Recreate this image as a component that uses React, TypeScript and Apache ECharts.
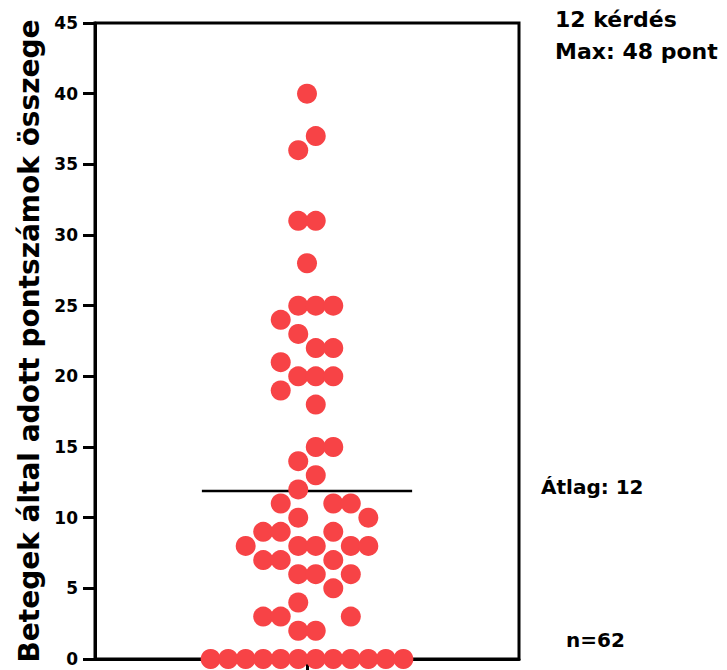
import React, { useEffect, useRef } from "react";
import * as echarts from "echarts";

// Patient total scores (one per patient)
const scores = [
  40, 37, 36, 31, 31, 28,
  25, 25, 25, 24, 23, 22, 22, 21, 20, 20, 20, 19, 18,
  15, 15, 14, 13, 12,
  11, 11, 11, 10, 10, 9, 9, 9, 8, 8, 8, 8, 8,
  7, 7, 7, 6, 6, 6, 5, 4, 3, 3, 3, 2, 2,
  0, 0, 0, 0, 0, 0, 0, 0, 0, 0, 0, 0,
];
// Horizontal scatter slot of each point (in dot widths from the column centre)
const slots = [
  0, 0.5, -0.5, -0.5, 0.5, 0,
  -0.5, 0.5, 1.5, -1.5, -0.5, 0.5, 1.5, -1.5, -0.5, 0.5, 1.5, -1.5, 0.5,
  0.5, 1.5, -0.5, 0.5, -0.5,
  -1.5, 1.5, 2.5, -0.5, 3.5, -2.5, -1.5, 1.5, -3.5, -0.5, 0.5, 2.5, 3.5,
  -2.5, -1.5, 1.5, -0.5, 0.5, 2.5, 1.5, -0.5, -2.5, -1.5, 2.5, -0.5, 0.5,
  -5.5, -4.5, -3.5, -2.5, -1.5, -0.5, 0.5, 1.5, 2.5, 3.5, 4.5, 5.5,
];
const meanLineSpan = [-6, 6];
const yAxisTitle = "Betegek által adott pontszámok összege";
const noteLines = ["12 kérdés", "Max: 48 pont"];

const FONT = "'DejaVu Sans', sans-serif";

export default function App() {
  const ref = useRef<HTMLDivElement>(null);

  useEffect(() => {
    if (!ref.current) return;
    const chart = echarts.init(ref.current, null, { renderer: "svg" });
    const mean = scores.reduce((a, b) => a + b, 0) / scores.length;
    const points = scores.map((s, i) => [slots[i], s]);

    chart.setOption({
      animation: false,
      backgroundColor: "#fff",
      grid: {
        left: 95,
        right: 208,
        top: 23,
        bottom: 11,
        show: true,
        borderColor: "#000",
        borderWidth: 3,
        backgroundColor: "transparent",
      },
      xAxis: {
        type: "value",
        min: -12.1,
        max: 12.1,
        splitLine: { show: false },
        axisLine: { show: true, onZero: false, lineStyle: { color: "#000", width: 3 } },
        axisTick: {
          show: true,
          customValues: [0],
          length: 11,
          lineStyle: { color: "#000", width: 3 },
        },
        axisLabel: { show: false },
      },
      yAxis: {
        type: "value",
        min: 0,
        max: 45,
        interval: 5,
        splitLine: { show: false },
        axisLine: { show: true, onZero: false, lineStyle: { color: "#000", width: 3 } },
        axisTick: { show: true, length: 12, lineStyle: { color: "#000", width: 3 } },
        axisLabel: {
          color: "#000",
          fontFamily: FONT,
          fontWeight: "bold",
          fontSize: 17,
          margin: 17,
        },
        name: yAxisTitle,
        nameLocation: "middle",
        nameRotate: 90,
        nameGap: 52,
        nameTextStyle: {
          color: "#000",
          fontFamily: FONT,
          fontWeight: "bold",
          fontSize: 28,
        },
      },
      series: [
        {
          type: "line",
          data: [
            [meanLineSpan[0], mean],
            [meanLineSpan[1], mean],
          ],
          symbol: "none",
          lineStyle: { color: "#000", width: 2.5 },
          z: 1,
          silent: true,
        },
        {
          type: "scatter",
          data: points,
          symbol: "circle",
          symbolSize: 20,
          itemStyle: { color: "#F74346", opacity: 1 },
          clip: false,
          z: 3,
        },
      ],
      graphic: [
        {
          type: "text",
          x: 555,
          y: 19,
          style: {
            text: noteLines[0],
            font: `bold 22px ${FONT}`,
            fill: "#000",
            textVerticalAlign: "middle",
          },
        },
        {
          type: "text",
          x: 555,
          y: 51,
          style: {
            text: noteLines[1],
            font: `bold 22px ${FONT}`,
            fill: "#000",
            textVerticalAlign: "middle",
          },
        },
        {
          type: "text",
          x: 541,
          y: 487,
          style: {
            text: `Átlag: ${Math.round(mean)}`,
            font: `bold 20px ${FONT}`,
            fill: "#000",
            textVerticalAlign: "middle",
          },
        },
        {
          type: "text",
          x: 566,
          y: 640,
          style: {
            text: `n=${scores.length}`,
            font: `bold 20px ${FONT}`,
            fill: "#000",
            textVerticalAlign: "middle",
          },
        },
      ],
    });

    return () => chart.dispose();
  }, []);

  return (
    <div
      ref={ref}
      style={{ position: "fixed", left: 0, top: 0, width: 727, height: 670 }}
    />
  );
}
